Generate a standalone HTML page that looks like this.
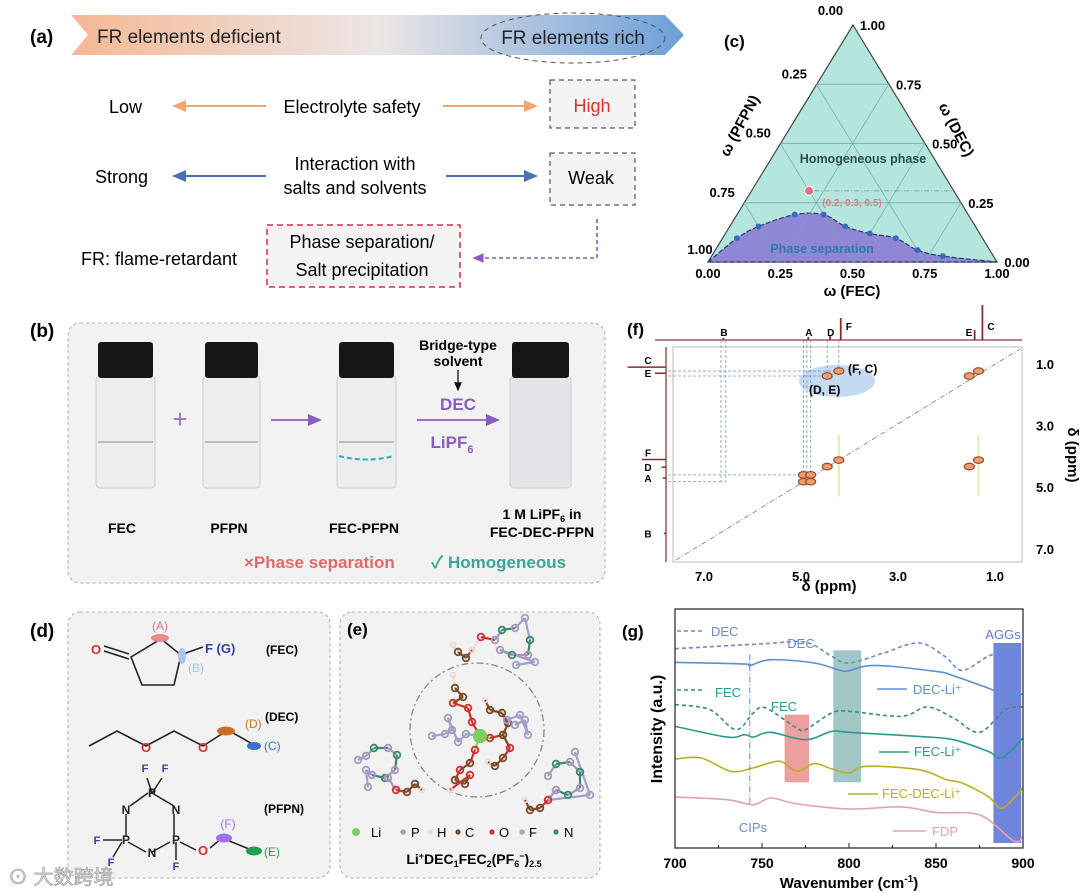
<!DOCTYPE html>
<html><head><meta charset="utf-8">
<style>
html,body{margin:0;padding:0;background:#fff;}
svg{display:block;font-family:"Liberation Sans","Noto Sans CJK SC",sans-serif;}
</style></head>
<body>
<svg id="fig" width="1080" height="893" viewBox="0 0 1080 893" xmlns="http://www.w3.org/2000/svg">
<defs>
<linearGradient id="bannerGrad" x1="0" x2="1" y1="0" y2="0">
<stop offset="0" stop-color="#f5b894"/><stop offset="0.5" stop-color="#ece6e6"/><stop offset="1" stop-color="#6c9fd8"/>
</linearGradient>
<marker id="arrO" markerWidth="8" markerHeight="8" refX="6" refY="4" orient="auto"><path d="M0,1 L7,4 L0,7 z" fill="#f0a870"/></marker>
<marker id="arrB" markerWidth="8" markerHeight="8" refX="6" refY="4" orient="auto"><path d="M0,1 L7,4 L0,7 z" fill="#4a70b0"/></marker>
<marker id="arrP" markerWidth="8" markerHeight="8" refX="6" refY="4" orient="auto"><path d="M0,1 L7,4 L0,7 z" fill="#8a5cc0"/></marker>
<marker id="arrK" markerWidth="8" markerHeight="8" refX="6" refY="4" orient="auto"><path d="M0,1 L7,4 L0,7 z" fill="#111"/></marker>
</defs>

<!-- Panel (a) -->
<g>
<text x="30" y="43" font-size="19" font-weight="bold">(a)</text>
<path d="M71,15 L665,15 L684,35 L665,55 L71,55 L88,35 Z" fill="url(#bannerGrad)"/>
<text x="97" y="43" font-size="19" fill="#222">FR elements deficient</text>
<ellipse cx="573" cy="38" rx="92" ry="25" fill="none" stroke="#555" stroke-dasharray="5,4"/>
<text x="573" y="44" font-size="19" fill="#222" text-anchor="middle">FR elements rich</text>

<text x="109" y="113" font-size="18">Low</text>
<line x1="266" y1="106" x2="174" y2="106" stroke="#f0a870" stroke-width="2" marker-end="url(#arrO)"/>
<text x="352" y="113" font-size="18" text-anchor="middle">Electrolyte safety</text>
<line x1="443" y1="106" x2="536" y2="106" stroke="#f0a870" stroke-width="2" marker-end="url(#arrO)"/>
<rect x="550" y="80" width="85" height="48" fill="#f4f4f4" stroke="#333" stroke-dasharray="5,4"/>
<text x="592" y="112" font-size="18" fill="#e03030" text-anchor="middle">High</text>

<text x="95" y="183" font-size="18">Strong</text>
<line x1="266" y1="176" x2="174" y2="176" stroke="#4a70b0" stroke-width="2" marker-end="url(#arrB)"/>
<text x="355" y="170" font-size="18" text-anchor="middle">Interaction with</text>
<text x="355" y="194" font-size="18" text-anchor="middle">salts and solvents</text>
<line x1="446" y1="176" x2="536" y2="176" stroke="#4a70b0" stroke-width="2" marker-end="url(#arrB)"/>
<rect x="550" y="153" width="85" height="52" fill="#f4f4f4" stroke="#333" stroke-dasharray="5,4"/>
<text x="591" y="184" font-size="18" text-anchor="middle">Weak</text>

<text x="81" y="265" font-size="18">FR: flame-retardant</text>
<rect x="267" y="225" width="193" height="62" fill="#f4f4f4" stroke="#d03040" stroke-width="1.5" stroke-dasharray="6,4"/>
<text x="362" y="248" font-size="18" text-anchor="middle">Phase separation/</text>
<text x="362" y="276" font-size="18" text-anchor="middle">Salt precipitation</text>
<path d="M597,219 L597,258 L474,258" fill="none" stroke="#8a5cc0" stroke-width="1.6" stroke-dasharray="4,3" marker-end="url(#arrP)"/>
</g>

<!-- Panel (b) -->
<g>
<text x="30" y="337" font-size="19" font-weight="bold">(b)</text>
<rect x="68" y="323" width="537" height="260" rx="12" fill="#f2f2f2" stroke="#aaa" stroke-dasharray="3,3"/>
<g id="vials"></g>
<text x="180" y="428" font-size="26" fill="#9a70c8" text-anchor="middle">+</text>
<line x1="271" y1="420" x2="320" y2="420" stroke="#9a70c8" stroke-width="2" marker-end="url(#arrP)"/>
<line x1="417" y1="420" x2="498" y2="420" stroke="#9a70c8" stroke-width="2" marker-end="url(#arrP)"/>
<text x="458" y="350" font-size="14" font-weight="bold" text-anchor="middle">Bridge-type</text>
<text x="458" y="366" font-size="14" font-weight="bold" text-anchor="middle">solvent</text>
<line x1="458" y1="370" x2="458" y2="390" stroke="#111" stroke-width="1.3" marker-end="url(#arrK)"/>
<text x="458" y="410" font-size="17" font-weight="bold" fill="#8a5cc0" text-anchor="middle">DEC</text>
<text x="452" y="448" font-size="17" font-weight="bold" fill="#8a5cc0" text-anchor="middle">LiPF<tspan font-size="11" dy="5">6</tspan></text>
<text x="122" y="533" font-size="14" font-weight="bold" text-anchor="middle">FEC</text>
<text x="229" y="533" font-size="14" font-weight="bold" text-anchor="middle">PFPN</text>
<text x="364" y="533" font-size="14" font-weight="bold" text-anchor="middle">FEC-PFPN</text>
<text x="542" y="519" font-size="14" font-weight="bold" text-anchor="middle">1 M LiPF<tspan font-size="9" dy="3">6</tspan><tspan dy="-3"> in</tspan></text>
<text x="542" y="537" font-size="14" font-weight="bold" text-anchor="middle">FEC-DEC-PFPN</text>
<text x="244" y="568" font-size="17" font-weight="bold" fill="#e06a6a">×Phase separation</text>
<text x="431" y="568" font-size="17" font-weight="bold" fill="#3aa59a">✓ Homogeneous</text>
</g>

<!-- Panel (c) -->
<g id="panelC">
<text x="724" y="47" font-size="17" font-weight="bold">(c)</text>
</g>

<!-- Panel (d) -->
<g>
<text x="30" y="637" font-size="19" font-weight="bold">(d)</text>
<rect x="68" y="612" width="262" height="266" rx="12" fill="#f2f2f2" stroke="#aaa" stroke-dasharray="3,3"/>
<g stroke="#222" stroke-width="1.6" fill="none">
<path d="M131,657 L161,639 L181,655 L174,685 L142,685 Z"/>
<path d="M104,646 L129,654 M104,651 L129,659"/>
<path d="M183,654 L203,647"/>
</g>
<ellipse cx="160" cy="638" rx="9" ry="4" fill="#e88a8a"/>
<ellipse cx="182" cy="656" rx="4" ry="8" fill="#a8c4f0"/>
<text x="96" y="654" font-size="13" font-weight="bold" fill="#d03030" text-anchor="middle">O</text>
<text x="160" y="630" font-size="12" fill="#e07070" text-anchor="middle">(A)</text>
<text x="196" y="672" font-size="12" fill="#a8c4f0" text-anchor="middle">(B)</text>
<text x="205" y="653" font-size="13" font-weight="bold" fill="#3040a0">F (G)</text>
<text x="266" y="654" font-size="12" font-weight="bold">(FEC)</text>

<polyline points="89,746 117,731 146,746 174,731 203,746 228,730 256,746" stroke="#222" stroke-width="1.6" fill="none"/>
<text x="146" y="752" font-size="13" font-weight="bold" fill="#d03030" text-anchor="middle">O</text>
<text x="203" y="752" font-size="13" font-weight="bold" fill="#d03030" text-anchor="middle">O</text>
<ellipse cx="226" cy="731" rx="9" ry="4.5" fill="#c8702a"/>
<ellipse cx="254" cy="746" rx="7" ry="4" fill="#3a70c8"/>
<text x="245" y="728" font-size="12" fill="#c8702a">(D)</text>
<text x="264" y="750" font-size="12" fill="#3a70c8">(C)</text>
<text x="265" y="721" font-size="12" font-weight="bold">(DEC)</text>

<g stroke="#222" stroke-width="1.5" fill="none">
<path d="M152,793 L174,806 M174,814 L174,836 M170,842 L152,852 M146,852 L128,842 M126,836 L126,814 M130,806 L148,793"/>
<path d="M152,793 L147,778 M152,793 L162,778 M122,840 L103,840 M122,842 L113,857 M176,842 L176,860 M180,842 L196,850 M210,848 L222,838 L254,851"/>
</g>
<g font-size="12" font-weight="bold" fill="#222" text-anchor="middle">
<text x="152" y="797">P</text>
<text x="176" y="814">N</text>
<text x="176" y="844">P</text>
<text x="152" y="857">N</text>
<text x="126" y="844">P</text>
<text x="126" y="814">N</text>
</g>
<g font-size="11" font-weight="bold" fill="#3040a0" text-anchor="middle">
<text x="145" y="772">F</text>
<text x="165" y="772">F</text>
<text x="97" y="844">F</text>
<text x="111" y="866">F</text>
<text x="176" y="870">F</text>
</g>
<text x="203" y="855" font-size="13" font-weight="bold" fill="#d03030" text-anchor="middle">O</text>
<ellipse cx="224" cy="838" rx="8" ry="4.5" fill="#a070f0"/>
<ellipse cx="254" cy="851" rx="8" ry="4.5" fill="#20a050"/>
<text x="228" y="828" font-size="12" fill="#a070f0" text-anchor="middle">(F)</text>
<text x="264" y="856" font-size="12" fill="#20a050">(E)</text>
<text x="264" y="813" font-size="12" font-weight="bold">(PFPN)</text>
</g>

<!-- Panel (e) -->
<g id="panelE">
<rect x="340" y="612" width="260" height="266" rx="12" fill="#f2f2f2" stroke="#aaa" stroke-dasharray="3,3"/>
<text x="347" y="635" font-size="17" font-weight="bold">(e)</text>
<circle cx="477" cy="730" r="67" fill="none" stroke="#888" stroke-width="1.3" stroke-dasharray="7,3,2,3"/>
<g id="mols"></g>
<g id="legendE"></g>
<text x="474" y="864" font-size="14" font-weight="bold" text-anchor="middle">Li<tspan font-size="9" dy="-5">+</tspan><tspan dy="5">DEC</tspan><tspan font-size="9" dy="3">1</tspan><tspan dy="-3">FEC</tspan><tspan font-size="9" dy="3">2</tspan><tspan dy="-3">(PF</tspan><tspan font-size="9" dy="3">6</tspan><tspan font-size="9" dy="-8">−</tspan><tspan dy="5">)</tspan><tspan font-size="9" dy="3">2.5</tspan></text>
</g>

<!-- Panel (f) -->
<g id="panelF">
<text x="627" y="335" font-size="17" font-weight="bold">(f)</text>
</g>

<!-- Panel (g) -->
<g id="panelG">
<text x="622" y="637" font-size="17" font-weight="bold">(g)</text>
</g>

<text x="8" y="884" font-size="20" fill="#d8d8d8" stroke="#999" stroke-width="0.6">⊙ 大数跨境</text>
</svg>

<script>
// ---------- Panel (g) data: FTIR spectra ----------
const gDecDashW = [700,750,775,790,800,820,840,855,865,880,895,900];
const gDecDashV = [83.4,85.4,86.1,80.2,77.4,81.6,85.8,80.2,74.3,80.2,84,83.7];
const gDecLiW = [700,740,743,755,780,795,800,815,850,860,880,893,900];
const gDecLiV = [77.7,77,76.3,78.8,77.4,74.3,74.2,76.4,73.9,72.1,66.9,63.2,64.6];
const gFecDashW = [700,720,735,745,752,770,775,790,800,830,845,860,875,890,900];
const gFecDashV = [60,57.9,49.5,56.5,58.6,50.2,49.5,56.5,57.2,55.1,59,54.4,48.4,57.9,59];
const gFecLiW = [700,730,740,745,755,775,790,800,840,860,880,888,900];
const gFecLiV = [50.9,46.4,47.4,46.4,48.4,45.3,48.8,48.4,46.7,45.3,40.4,37.7,46];
const gMixW = [700,715,732,745,760,770,780,790,800,810,840,856,865,880,888,900];
const gMixV = [37.2,37.7,32.1,33.5,36.3,32.1,35.3,33.1,31.4,34.2,32.8,28.6,27.2,21.6,16.7,25.1];
const gFdpW = [700,730,745,755,770,800,830,850,870,880,895,900];
const gFdpV = [21.3,20.2,18.1,20.9,18.5,16.3,17.2,14.9,14.6,11.9,2.8,4.9];
const gBandNames = ["FEC","DEC","AGGs"];
const gBandFrom = [763,791,883];
const gBandTo = [777,807,899];
const gBandTop = [55.8,82.7,85.8];
const gBandBottom = [27.5,27.5,2.1];
const gXTicks = [700,750,800,850,900];

// ---------- Panel (c) data: ternary phase diagram ----------
const cBoundaryFEC = [0,0.05,0.1,0.2,0.3,0.4,0.5,0.6,0.7,0.8,1];
const cBoundaryDEC = [0,0.1,0.15,0.2,0.2,0.15,0.12,0.1,0.05,0.025,0];
const cMarkedFEC = [0.2];
const cMarkedDEC = [0.3];
const cTicks = [0,0.25,0.5,0.75,1];

// ---------- Panel (f) data: 2D NMR ----------
const fPeakX = [4.95,4.8,4.95,4.8,4.46,4.22,1.53,1.34,1.53,1.34,4.46,4.22];
const fPeakY = [4.82,4.82,4.6,4.6,4.33,4.12,4.33,4.12,1.39,1.23,1.39,1.23];
const fSpecLabels = ["B","A","D","F","E","C"];
const fSpecTop = [6.6,4.85,4.4,4.18,1.42,1.26];
const fSpecSide = [6.5,4.7,4.35,4.1,1.3,1.1];
const fSpecHeight = [2,3,4,22,10,35];
const fXTicks = [7,5,3,1];
const fYTicks = [1,3,5,7];

const NS="http://www.w3.org/2000/svg";
function mk(parent, tag, attrs){const e=document.createElementNS(NS,tag);for(const k in attrs)e.setAttribute(k,attrs[k]);parent.appendChild(e);return e;}
function smooth(pts){let d="M"+pts[0][0]+","+pts[0][1];for(let i=0;i<pts.length-1;i++){const p0=pts[i-1]||pts[i],p1=pts[i],p2=pts[i+1],p3=pts[i+2]||p2;const c1=[p1[0]+(p2[0]-p0[0])/6,p1[1]+(p2[1]-p0[1])/6],c2=[p2[0]-(p3[0]-p1[0])/6,p2[1]-(p3[1]-p1[1])/6];d+=" C"+c1[0].toFixed(1)+","+c1[1].toFixed(1)+" "+c2[0].toFixed(1)+","+c2[1].toFixed(1)+" "+p2[0].toFixed(1)+","+p2[1].toFixed(1);}return d;}

// ===== Panel g =====
(function(){
const G=document.getElementById('panelG');
const x0=675,x1=1023,y0=609,y1=848;
const xg=w=>x0+(w-700)*(x1-x0)/200;
const yg=v=>y1-v*(y1-y0)/100;
const bandCol=["#e88e8e","#8fbcbc","#5f78d8"];
gBandNames.forEach((n,i)=>{
 const r=mk(G,'rect',{x:xg(gBandFrom[i]),y:yg(gBandTop[i]),width:xg(gBandTo[i])-xg(gBandFrom[i]),height:yg(gBandBottom[i])-yg(gBandTop[i]),fill:bandCol[i],opacity:i==2?0.9:0.85});
 
 
});
const ser=[[gDecDashW,gDecDashV,"#6a8cc8",true,"dec-dashed"],[gDecLiW,gDecLiV,"#5b8fd6",false,"dec-li"],[gFecDashW,gFecDashV,"#3a8a86",true,"fec-dashed"],[gFecLiW,gFecLiV,"#2a9a90",false,"fec-li"],[gMixW,gMixV,"#b8b020",false,"fec-dec-li"],[gFdpW,gFdpV,"#e2a4ac",false,"fdp"]];
ser.forEach(s=>{
 const pts=s[0].map((w,i)=>[xg(w),yg(s[1][i])]);
 const p=mk(G,'path',{d:smooth(pts),fill:"none",stroke:s[2],"stroke-width":1.6});
 if(s[3])p.setAttribute('stroke-dasharray','4,3');
 
 
});
const cip=mk(G,'line',{x1:xg(743),x2:xg(743),y1:yg(81),y2:yg(18),stroke:"#6a8cc8","stroke-dasharray":"6,2,1,2","stroke-width":1});


const fr=mk(G,'rect',{x:x0,y:y0,width:x1-x0,height:y1-y0,fill:"none",stroke:"#222","stroke-width":1.2});


for(let w=700;w<=900;w+=25){const t=mk(G,'line',{x1:xg(w),x2:xg(w),y1:y1,y2:y1-(w%50==0?5:3),stroke:"#222"});}
gXTicks.forEach(w=>{const t=mk(G,'text',{x:xg(w),y:868,"font-size":14,"font-weight":"bold","text-anchor":"middle"});t.textContent=w;});
const xt=mk(G,'text',{x:849,y:888,"font-size":15,"font-weight":"bold","text-anchor":"middle"});xt.innerHTML='Wavenumber (cm<tspan font-size="10" dy="-6">-1</tspan><tspan dy="6">)</tspan>';

const yt=mk(G,'text',{x:0,y:0,"font-size":16,"font-weight":"bold","text-anchor":"middle",transform:"translate(662,729) rotate(-90)"});yt.textContent='Intensity (a.u.)';

const labs=[["DEC",711,636,"#6a8cc8"],["FEC",715,697,"#2a9a90"],["DEC",801,648,"#6a8cc8"],["FEC",784,711,"#2a9a90"],["AGGs",1003,639,"#5f78d8"],["CIPs",753,832,"#6a8cc8"],["DEC-Li⁺",913,694,"#5b8fd6"],["FEC-Li⁺",914,756,"#2a9a90"],["FEC-DEC-Li⁺",882,798,"#b8b020"],["FDP",932,836,"#e2a4ac"]];
labs.forEach((l,i)=>{const t=mk(G,'text',{x:l[1],y:l[2],"font-size":13,fill:l[3],"text-anchor":(i>=2&&i<=5)?"middle":"start"});t.textContent=l[0];});
const leg=[[677,705,631,"#6a8cc8",1],[677,705,690,"#3a8a86",1],[877,907,689,"#5b8fd6",0],[879,909,752,"#2a9a90",0],[848,878,794,"#b8b020",0],[893,926,831,"#e2a4ac",0]];
leg.forEach(l=>{const ln=mk(G,'line',{x1:l[0],x2:l[1],y1:l[2],y2:l[2],stroke:l[3],"stroke-width":1.6});if(l[4])ln.setAttribute('stroke-dasharray','4,3');});
})();

// ===== Panel c =====
(function(){
const C=document.getElementById('panelC');
const L=[708,262],R=[997,262],T=[853,25];const W=R[0]-L[0],H=L[1]-T[1];
const P=(fec,dec)=>[L[0]+(fec+dec/2)*W,L[1]-dec*H];
const tri=mk(C,'path',{d:`M${L} L${R} L${T} Z`,fill:"#b4e6dd",stroke:"#444","stroke-width":1.2});

const pts=cBoundaryFEC.map((f,i)=>P(f,cBoundaryDEC[i]));
const reg=mk(C,'path',{d:smooth(pts)+" Z",fill:"#8f86d6",stroke:"#2a3a6a","stroke-width":1.2,"stroke-dasharray":"5,2"});

[0.25,0.5,0.75].forEach(v=>{
 [[P(0,v),P(1-v,v)],[P(v,0),P(v,1-v)],[P(1-v,0),P(0,1-v)]].forEach(s=>{const g=mk(C,'line',{x1:s[0][0],y1:s[0][1],x2:s[1][0],y2:s[1][1],stroke:"#7aa8a4","stroke-width":0.9,opacity:0.8});});
});
pts.slice(1,-1).forEach(p=>{const c=mk(C,'circle',{cx:p[0],cy:p[1],r:3,fill:"#3a6ac0"});});
cMarkedFEC.forEach((f,i)=>{const p=P(f,cMarkedDEC[i]);const c=mk(C,'circle',{cx:p[0],cy:p[1],r:4.5,fill:"#e07080",stroke:"#fff","stroke-width":1});
 const dl=mk(C,'line',{x1:p[0]+5,y1:p[1],x2:P(1-cMarkedDEC[i],cMarkedDEC[i])[0],y2:p[1],stroke:"#888","stroke-dasharray":"5,2,1,2","stroke-width":0.8});});
const tl=(x,y,s,name,extra)=>{const t=mk(C,'text',Object.assign({x:x,y:y,"font-size":13,"font-weight":"bold","text-anchor":"middle"},extra||{}));t.textContent=s;return t;};
cTicks.forEach(v=>{
 const b=P(v,0);tl(b[0],278,v.toFixed(2),'fec-tick-label');
 const r=P(1-v,v);tl(r[0]+20,r[1]+5,v.toFixed(2),'dec-tick-label');
 const l=P(0,1-v);if(v<1)tl(l[0]-22,l[1]+(v==0?-10:-6),v.toFixed(2),'pfpn-tick-label');
});
tl(700,254,"1.00",'pfpn-tick-label');
tl(852,296,"ω (FEC)",'fec-axis-title',{"font-size":15});
tl(0,0,"ω (PFPN)",'pfpn-axis-title',{"font-size":15,transform:"translate(744,128) rotate(-62)"});
tl(0,0,"ω (DEC)",'dec-axis-title',{"font-size":15,transform:"translate(952,132) rotate(62)"});
tl(863,163,"Homogeneous phase",'homogeneous-phase-label',{fill:"#2e4a5a","font-size":12.5});
tl(822,253,"Phase separation",'phase-separation-label',{fill:"#2a7ab0","font-size":12.5});
tl(852,206,"(0.2, 0.3, 0.5)",'selected-composition-label',{fill:"#e07888","font-size":10});
})();

// ===== Panel f =====
(function(){
const F=document.getElementById('panelF');
const x0=673,x1=1022,y0=347,y1=562;
const xf=p=>704+(7-p)*48.5;
const yf=p=>364+(p-1)*30.8;
const fr=mk(F,'rect',{x:x0,y:y0,width:x1-x0,height:y1-y0,fill:"#fff",stroke:"#bbb","stroke-width":1});

const hl=mk(F,'ellipse',{cx:837,cy:381,rx:38,ry:16,fill:"#b8d4ee",opacity:0.85});

const dg=mk(F,'line',{x1:x0+3,y1:y1-2,x2:x1-2,y2:y0+2,stroke:"#888","stroke-dasharray":"5,2,1,2","stroke-width":0.9});

[4.22,1.34].forEach(p=>{const s=mk(F,'line',{x1:xf(p),x2:xf(p),y1:yf(3.3),y2:yf(5.3),stroke:"#e4ecb0","stroke-width":2});});
// guide lines
const guide=(x1,y1,x2,y2)=>{const l=mk(F,'line',{x1:x1,y1:y1,x2:x2,y2:y2,stroke:"#7f9ab8","stroke-dasharray":"3,2","stroke-width":0.8});};
[6.65,6.55,4.95,4.88,4.8,4.46,4.22].forEach(p=>guide(xf(p),340,xf(p),p>6?yf(4.85):(p>4.7?yf(4.6):yf(p<4.3?1.23:1.39))));
guide(668,yf(1.23),xf(4.22),yf(1.23));guide(668,yf(1.39),xf(4.46),yf(1.39));
guide(668,yf(4.6),xf(4.95),yf(4.6));guide(668,yf(4.82),xf(6.6),yf(4.82));
// top spectrum
const top=mk(F,'line',{x1:655,x2:1022,y1:340,y2:340,stroke:"#8b3a3a","stroke-width":1.3});
const side=mk(F,'line',{x1:666,x2:666,y1:y0,y2:y1,stroke:"#8b3a3a","stroke-width":1.3});
fSpecLabels.forEach((lab,i)=>{
 const xp=xf(fSpecTop[i]);
 const pk=mk(F,'line',{x1:xp,x2:xp,y1:340,y2:340-fSpecHeight[i],stroke:"#8b2a2a","stroke-width":1.8});
 const t=mk(F,'text',{x:xp+(lab=="F"||lab=="C"?5:(lab=="E"?-9:-3)),y:lab=="F"||lab=="C"?330:336,"font-size":10,"font-weight":"bold"});t.textContent=lab;
 const yp=yf(fSpecSide[i]);
 const sp=mk(F,'line',{x1:666,x2:666-fSpecHeight[i]*1.1,y1:yp,y2:yp,stroke:"#8b2a2a","stroke-width":1.5});
 const t2=mk(F,'text',{x:648,y:yp+(lab=="C"||lab=="F"?-3:4),"font-size":10,"font-weight":"bold","text-anchor":"middle"});t2.textContent=lab;
});
fPeakX.forEach((px,i)=>{const e=mk(F,'ellipse',{cx:xf(px),cy:yf(fPeakY[i]),rx:5,ry:3.3,fill:"#e8a070",stroke:"#a04a2a","stroke-width":1.2});});
fXTicks.forEach(p=>{const t=mk(F,'text',{x:xf(p),y:581,"font-size":13,"font-weight":"bold","text-anchor":"middle"});t.textContent=p.toFixed(1);});
fYTicks.forEach(p=>{const t=mk(F,'text',{x:1045,y:yf(p)+5,"font-size":13,"font-weight":"bold","text-anchor":"middle"});t.textContent=p.toFixed(1);});
const xt=mk(F,'text',{x:829,y:591,"font-size":15,"font-weight":"bold","text-anchor":"middle"});xt.textContent="δ (ppm)";
const yt=mk(F,'text',{x:0,y:0,"font-size":15,"font-weight":"bold","text-anchor":"middle",transform:"translate(1068,455) rotate(90)"});yt.textContent="δ (ppm)";
const a1=mk(F,'text',{x:848,y:373,"font-size":12,"font-weight":"bold"});a1.textContent="(F, C)";
const a2=mk(F,'text',{x:809,y:394,"font-size":12,"font-weight":"bold"});a2.textContent="(D, E)";
})();

// ===== Panel b vials =====
(function(){
const V=document.getElementById('vials');
const vx=[[96,155],[203,260],[337,396],[510,571]];
const names=['fec','pfpn','fec-pfpn','final'];
vx.forEach((v,i)=>{
 const w=v[1]-v[0];
 const b=mk(V,'rect',{x:v[0],y:376,width:w,height:112,rx:4,fill:i==3?"#e6e3ea":"#eceeee",stroke:"#ccc"});
 
 if(i<3){const m=mk(V,'line',{x1:v[0]+2,x2:v[1]-2,y1:442,y2:442,stroke:"#aaa","stroke-width":1.5});}
 const c=mk(V,'rect',{x:v[0]+2,y:342,width:w-4,height:36,rx:3,fill:"#161616"});
 
});
const d=mk(V,'path',{d:"M339,456 Q366,463 394,456",fill:"none",stroke:"#30a8d8","stroke-width":2,"stroke-dasharray":"5,3"});

})();

// ===== Panel e molecules =====
(function(){
const M=document.getElementById('mols');
const col={Li:"#7cd060",P:"#a898c0",H:"#f0d8d8",C:"#7a4a2a",O:"#d03030",F:"#a0a0c8",N:"#3a8a6a"};
// molecules: list of atoms and chain bonds (consecutive)
const mols=[
 [[453,645,'H'],[458,652,'C'],[466,658,'C'],[472,650,'H'],[481,637,'O'],[495,640,'P'],[502,630,'N'],[515,628,'P'],[525,618,'F'],[530,640,'N'],[528,655,'P'],[512,655,'N'],[500,650,'P'],[535,662,'F'],[516,665,'F']],
 [[453,675,'H'],[455,688,'C'],[463,697,'C'],[453,703,'O'],[468,708,'O'],[472,722,'O'],[480,736,'Li']],
 [[432,736,'F'],[445,734,'F'],[452,730,'P'],[448,718,'F'],[458,742,'F'],[466,734,'F'],[480,736,'Li']],
 [[480,736,'Li'],[490,738,'O'],[503,735,'C'],[508,723,'C'],[502,713,'C'],[490,710,'C'],[485,700,'H']],
 [[503,735,'C'],[510,748,'O'],[503,758,'C'],[495,766,'C'],[488,762,'H']],
 [[480,736,'Li'],[475,750,'O'],[470,763,'C'],[460,770,'O'],[455,780,'C'],[465,784,'C'],[470,775,'O'],[450,790,'H']],
 [[515,725,'P'],[525,720,'F'],[528,735,'F'],[520,715,'F'],[507,720,'F']],
 [[358,760,'F'],[366,756,'P'],[374,748,'N'],[388,748,'P'],[397,755,'N'],[395,770,'P'],[385,778,'N'],[372,775,'P'],[366,770,'F'],[368,787,'F']],
 [[388,778,'P'],[396,790,'O'],[407,792,'C'],[415,784,'C'],[422,790,'H']],
 [[548,776,'P'],[556,764,'N'],[570,762,'P'],[580,772,'N'],[580,788,'P'],[568,795,'N'],[556,790,'P'],[548,800,'F'],[590,795,'F'],[575,752,'F']],
 [[556,790,'P'],[548,800,'O'],[540,808,'C'],[530,810,'C'],[525,800,'H']]
];
mols.forEach((m,mi)=>{
 for(let i=0;i<m.length-1;i++){const b=mk(M,'line',{x1:m[i][0],y1:m[i][1],x2:m[i+1][0],y2:m[i+1][1],stroke:col[m[i][2]],"stroke-width":2.2});}
 m.forEach(a=>{const c=mk(M,'circle',{cx:a[0],cy:a[1],r:a[2]=='Li'?7:(a[2]=='H'?2.5:3.3),fill:"none",stroke:col[a[2]],"stroke-width":a[2]=='Li'?0:1.8});if(a[2]=='Li')c.setAttribute('fill',col.Li);});
});
const L=document.getElementById('legendE');
const items=[['Li',356,371],['P',403,411],['H',430,437],['C',458,465],['O',492,499],['F',522,529],['N',556,564]];
items.forEach(it=>{const c=mk(L,'circle',{cx:it[1],cy:832,r:it[0]=='Li'?4:2.6,fill:col[it[0]]=='#f0d8d8'?'#ddd':col[it[0]]});
 const t=mk(L,'text',{x:it[2],y:837,"font-size":13});t.textContent=it[0];});
})();
</script>
</body></html>
